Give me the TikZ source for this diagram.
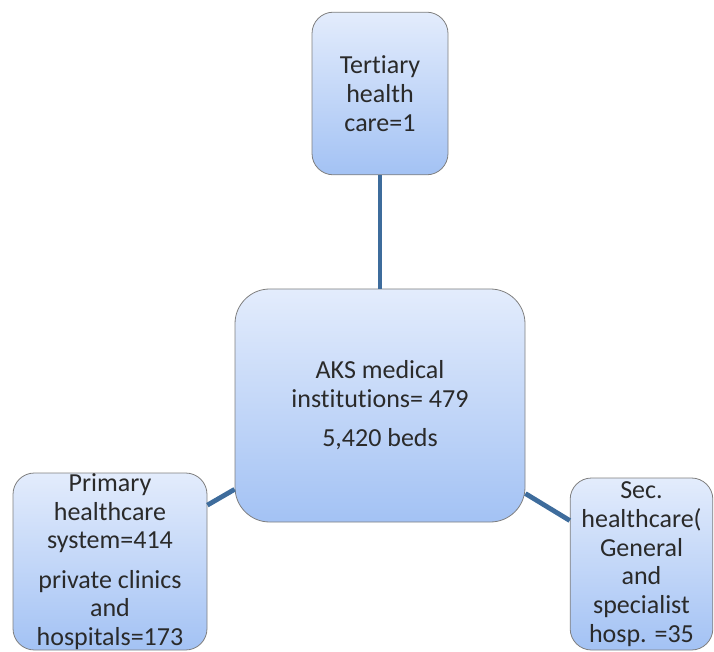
\documentclass[tikz,border=0pt]{standalone}
\usepackage{fontspec}
\setmainfont{Carlito}[Ligatures=NoCommon]
\usepackage{xcolor}
\usetikzlibrary{positioning}
\definecolor{boxtop}{HTML}{E3ECFC}
\definecolor{boxbottom}{HTML}{A3C2F4}
\definecolor{boxline}{HTML}{7F7F7F}
\definecolor{linkblue}{HTML}{3E6C9C}
\definecolor{ink}{HTML}{2A2A2A}
\begin{document}
\begin{tikzpicture}[x=0.75pt,y=-0.75pt,
    unit/.style={draw=boxline, line width=0.6pt, top color=boxtop, bottom color=boxbottom,
      rounded corners=16pt, align=center, inner sep=0pt, text=ink,
      font=\fontsize{19.5}{21.5}\selectfont},
    link/.style={draw=linkblue, line width=3.6pt}]
    \useasboundingbox (0,0) rectangle (714,652);
    \node[unit, rounded corners=26pt, minimum width=217.5pt, minimum height=174.75pt] (aks) at (380,405.5)
      {AKS medical\\ institutions= 479\\[8pt] 5,420 beds};
    \node[unit, minimum width=102pt, minimum height=122pt] (tertiary) at (380,93.5)
      {Tertiary\\ health\\ care=1};
    \node[unit, minimum width=145.5pt, minimum height=132.75pt] (primary) at (110,561.5)
      {Primary\\ healthcare\\ system=414\\[8pt] private clinics\\ and\\ hospitals=173};
    \node[unit, minimum width=107pt, minimum height=129pt] (secondary) at (641.5,564)
      {Sec.\\ healthcare(\\ General\\ and\\ specialist\\ hosp. =35};
    \draw[link] (tertiary) -- (aks);
    \draw[link] (primary) -- (aks);
    \draw[link] (aks) -- (secondary);
\end{tikzpicture}
\end{document}
